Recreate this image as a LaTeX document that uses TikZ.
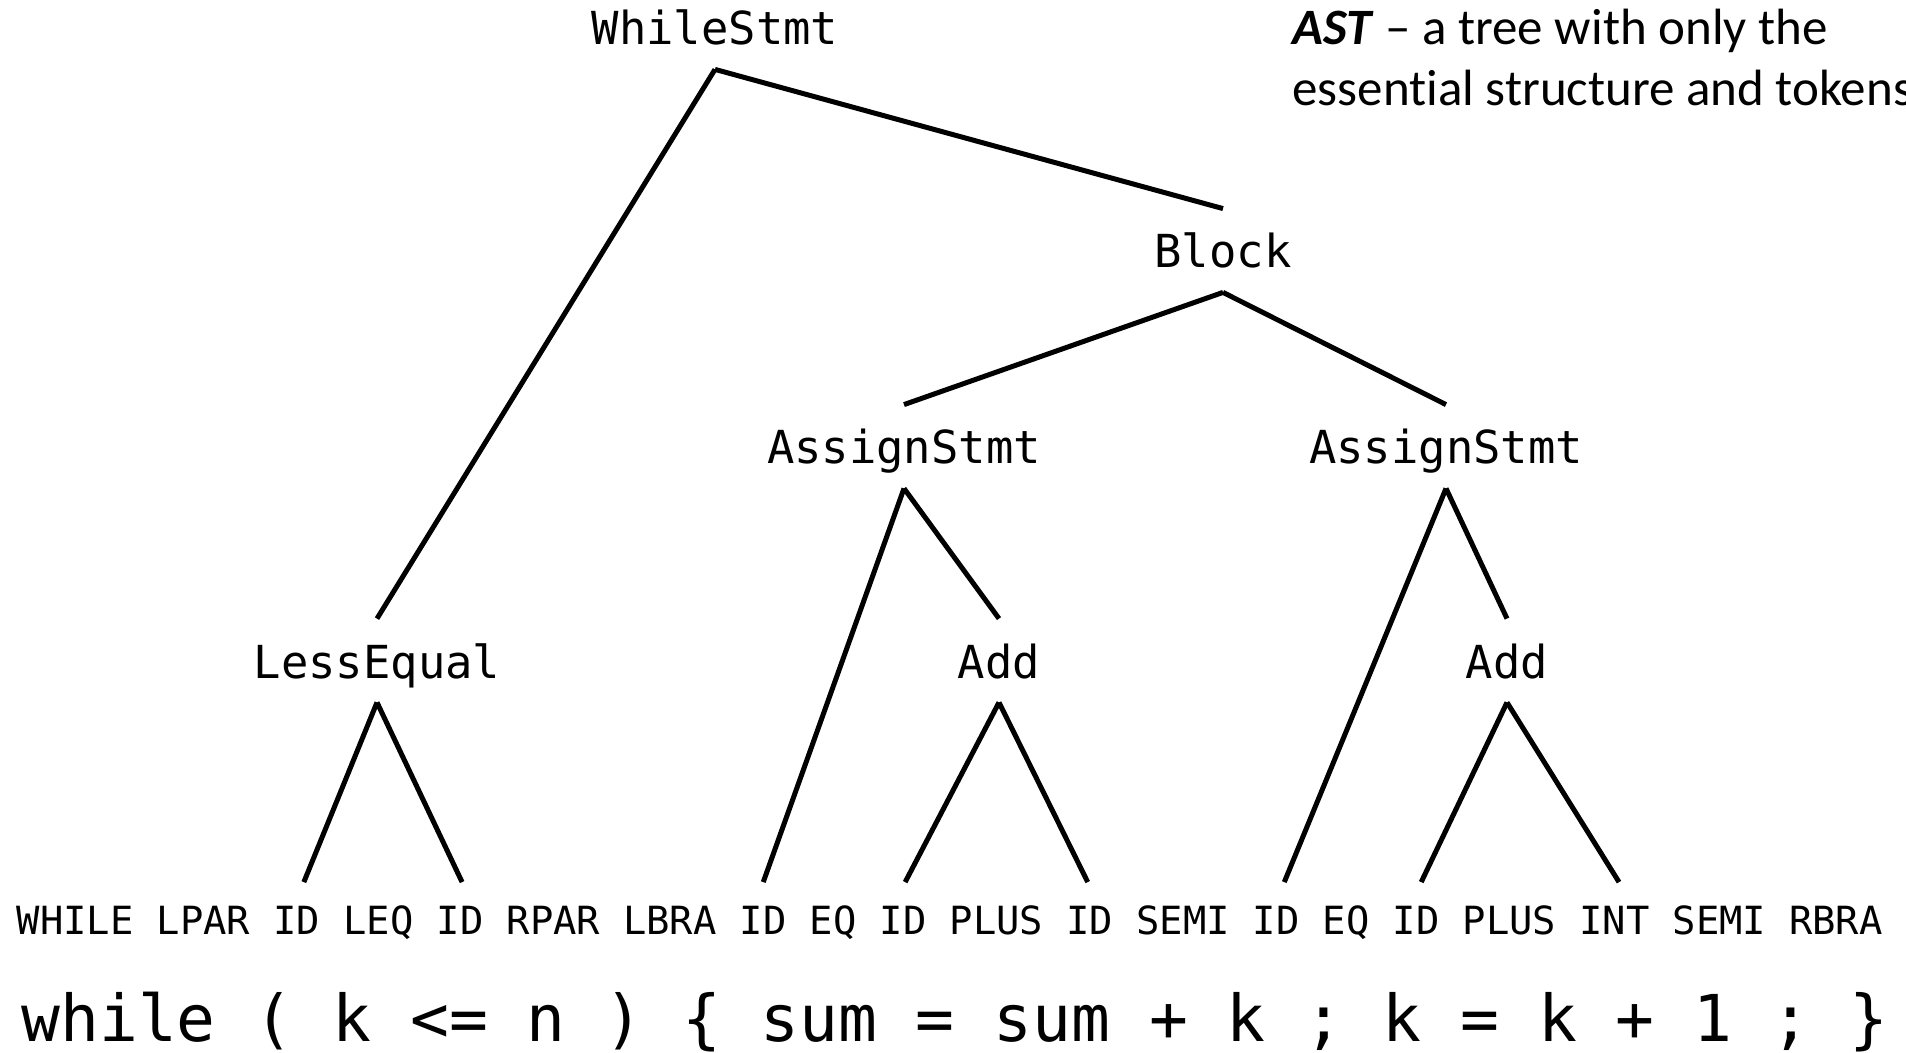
\documentclass[tikz,border=0pt]{standalone}
\usepackage{fontspec}
\newfontfamily\monof{DejaVu Sans Mono}
\newfontfamily\calib[Ligatures=NoCommon]{Carlito}
\begin{document}
\begin{tikzpicture}[x=0.5pt,y=-0.5pt,
  astnode/.style={font=\monof\fontsize{22.75pt}{27pt}\selectfont, anchor=base,
    inner xsep=0pt, inner ysep=12pt, text height=17.5pt, text depth=0pt},
  toknode/.style={font=\monof\fontsize{19.4pt}{23pt}\selectfont, anchor=base,
    inner xsep=0pt, inner ysep=11.75pt, text height=14pt, text depth=0pt},
  codenode/.style={font=\monof\fontsize{32.3pt}{38pt}\selectfont, anchor=base west,
    inner sep=0pt},
  notenode/.style={font=\calib\fontsize{25.5pt}{31pt}\selectfont, anchor=base west,
    inner sep=0pt},
  edgeline/.style={line width=2.5pt, black}]
\useasboundingbox (0,0) rectangle (1906,1053);
\fill[white] (0,0) rectangle (1906,1053);

% tree nodes
\node[astnode] (ws)   at (715,45)   {WhileStmt};
\node[astnode] (blk)  at (1223,268) {Block};
\node[astnode] (as1)  at (904,464)  {AssignStmt};
\node[astnode] (as2)  at (1446,464) {AssignStmt};
\node[astnode] (le)   at (377,678)  {LessEqual};
\node[astnode] (add1) at (999,678)  {Add};
\node[astnode] (add2) at (1507,678) {Add};

% token row
\node[toknode] (t1)  at (75.3,934)    {WHILE};
\node[toknode] (t2)  at (203.56,934)  {LPAR};
\node[toknode] (t3)  at (296.84,934)  {ID};
\node[toknode] (t4)  at (378.46,934)  {LEQ};
\node[toknode] (t5)  at (460.08,934)  {ID};
\node[toknode] (t6)  at (553.36,934)  {RPAR};
\node[toknode] (t7)  at (669.96,934)  {LBRA};
\node[toknode] (t8)  at (763.24,934)  {ID};
\node[toknode] (t9)  at (833.2,934)   {EQ};
\node[toknode] (t10) at (903.16,934)  {ID};
\node[toknode] (t11) at (996.44,934)  {PLUS};
\node[toknode] (t12) at (1089.72,934) {ID};
\node[toknode] (t13) at (1183,934)    {SEMI};
\node[toknode] (t14) at (1276.28,934) {ID};
\node[toknode] (t15) at (1346.24,934) {EQ};
\node[toknode] (t16) at (1416.2,934)  {ID};
\node[toknode] (t17) at (1509.48,934) {PLUS};
\node[toknode] (t18) at (1614.42,934) {INT};
\node[toknode] (t19) at (1719.36,934) {SEMI};
\node[toknode] (t20) at (1835.96,934) {RBRA};

% source code
\node[codenode] (code) at (21,1041) {while ( k <= n ) \{ sum = sum + k ; k = k + 1 ; \}};

% note
\node[notenode] (note1) at (1292,45)  {\textbf{\textit{AST}} – a tree with only the};
\node[notenode] (note2) at (1292,106) {essential structure and tokens};

% edges
\draw[edgeline] (ws.south) -- (blk.north);
\draw[edgeline] (ws.south) -- (le.north);
\draw[edgeline] (blk.south) -- (as1.north);
\draw[edgeline] (blk.south) -- (as2.north);
\draw[edgeline] (as1.south) -- (t8.north);
\draw[edgeline] (as1.south) -- (add1.north);
\draw[edgeline] (as2.south) -- ([xshift=4pt]t14.north);
\draw[edgeline] (as2.south) -- (add2.north);
\draw[edgeline] (le.south) -- ([xshift=3.5pt]t3.north);
\draw[edgeline] (le.south) -- ([xshift=1pt]t5.north);
\draw[edgeline] (add1.south) -- ([xshift=1pt]t10.north);
\draw[edgeline] (add1.south) -- ([xshift=-1pt]t12.north);
\draw[edgeline] (add2.south) -- ([xshift=2.5pt]t16.north);
\draw[edgeline] (add2.south) -- ([xshift=2.3pt]t18.north);
\end{tikzpicture}
\end{document}
